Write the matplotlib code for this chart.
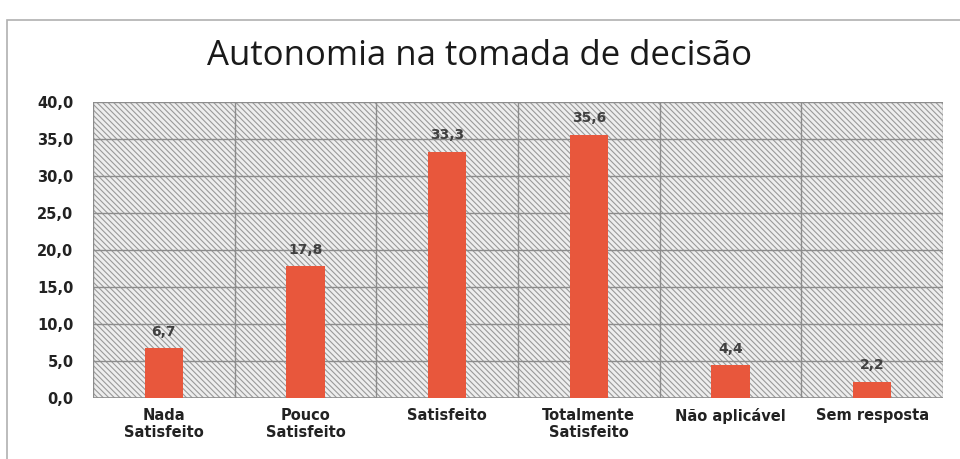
import matplotlib.pyplot as plt
from matplotlib.patches import Rectangle
import numpy as np

categorias = ['Nada\nSatisfeito', 'Pouco\nSatisfeito', 'Satisfeito',
              'Totalmente\nSatisfeito', 'Não aplicável', 'Sem resposta']
valores = [6.7, 17.8, 33.3, 35.6, 4.4, 2.2]
rotulos = ['6,7', '17,8', '33,3', '35,6', '4,4', '2,2']
yticks = [0, 5, 10, 15, 20, 25, 30, 35, 40]

plt.rcParams['hatch.color'] = '#9a9a9a'
plt.rcParams['hatch.linewidth'] = 0.8

fig = plt.figure(figsize=(9.6, 4.59), dpi=100)
ax = fig.add_axes([93 / 960, 1 - 398 / 459, 850 / 960, 296 / 459])

# moldura do grafico
fig.patches.append(Rectangle((7 / 960, -0.05), 1.1, 1 - 20 / 459 + 0.05,
                             transform=fig.transFigure, fill=False,
                             edgecolor='#b0b0b0', linewidth=1.2))

# fundo tracejado
ax.add_patch(Rectangle((0, 0), 1, 1, transform=ax.transAxes, facecolor='#eeeeee',
                       hatch='\\\\\\\\\\\\', edgecolor='#9a9a9a', linewidth=0, zorder=0))

x = np.arange(len(categorias))
ax.bar(x, valores, width=0.27, color='#e8573c', zorder=3)
for xi, v, r in zip(x, valores, rotulos):
    ax.text(xi, v + 1.3, r, ha='center', va='bottom', fontsize=10,
            fontweight='bold', color='#404040', zorder=4)

ax.set_xlim(-0.5, len(categorias) - 0.5)
ax.set_ylim(0, 40)
ax.set_yticks(yticks)
ax.set_yticklabels([('%.1f' % t).replace('.', ',') for t in yticks])
ax.set_xticks(x)
ax.set_xticklabels(categorias)
for lbl in ax.get_xticklabels() + ax.get_yticklabels():
    lbl.set_fontweight('bold')
    lbl.set_fontsize(10.5)
    lbl.set_color('#222222')
ax.tick_params(length=0, pad=7)
ax.tick_params(axis='y', pad=14)

for yv in yticks[1:]:
    ax.axhline(yv, color='#8c8c8c', linewidth=1, zorder=1)
for xv in np.arange(-0.5, len(categorias), 1.0):
    ax.axvline(xv, color='#8c8c8c', linewidth=1, zorder=1)
for s in ax.spines.values():
    s.set_visible(False)
ax.axhline(0, color='#8c8c8c', linewidth=1.2, zorder=2)

fig.text(0.5, 1 - 56 / 459, 'Autonomia na tomada de decisão', ha='center',
         va='center', fontsize=25, color='#1a1a1a', family='Open Sans')

fig.savefig('out.png', dpi=100)
